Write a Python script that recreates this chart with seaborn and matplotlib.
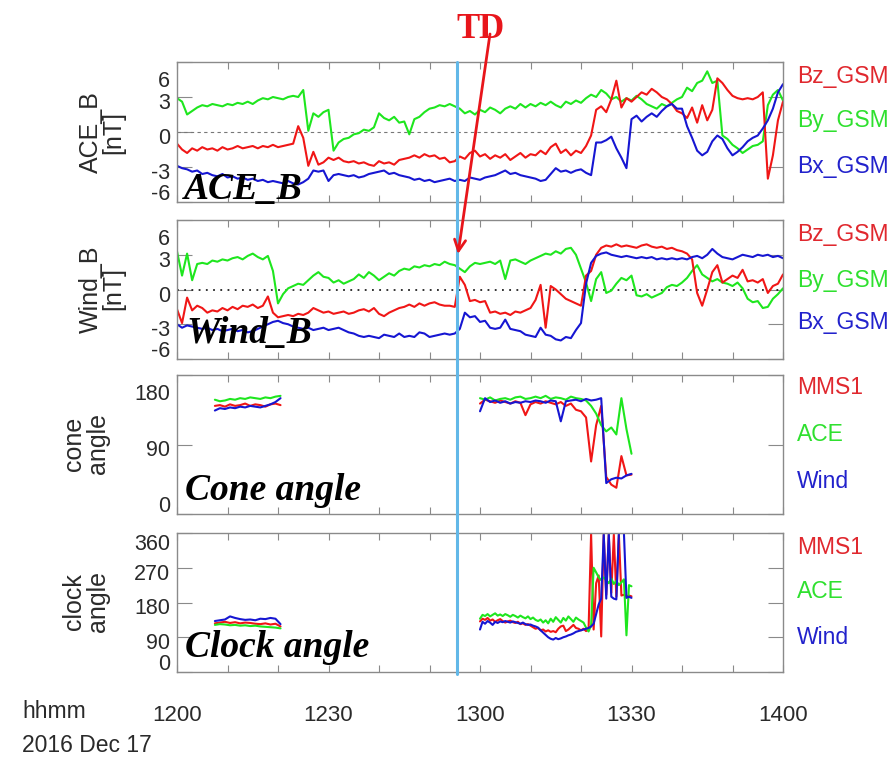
import numpy as np
import pandas as pd
import matplotlib
matplotlib.use("Agg")
import matplotlib.pyplot as plt
import matplotlib.transforms as mtransforms
from matplotlib.lines import Line2D
from matplotlib.patches import FancyArrowPatch
import seaborn as sns

sns.set_theme(style="white")
plt.rcParams["font.family"] = ["Liberation Sans", "DejaVu Sans"]

# ---------------------------------------------------------------------------
# Data: minutes after 12:00 UT, 2016 Dec 17
# ---------------------------------------------------------------------------
t_b = np.arange(0, 121)

ace_by = [2.9, 2.6, 1.5, 1.8, 2.1, 2.3, 2.2, 2.4, 2.3, 2.2,
          2.4, 2.3, 2.5, 2.4, 2.6, 2.4, 2.7, 2.9, 2.8, 3.0,
          2.9, 2.8, 3.0, 3.1, 3.0, 3.6, 0.1, 1.6, 1.3, 1.7,
          1.9, -1.6, -0.9, -0.6, -0.5, -0.2, -0.1, 0.2, 0.1, 0.4,
          1.6, 1.2, 1.0, 1.3, 0.8, 0.9, -0.2, 1.1, 1.3, 1.7,
          2.0, 2.1, 2.3, 2.2, 2.4, 2.2, 2.0, 1.6, 1.8, 1.5,
          1.9, 1.7, 2.1, 1.9, 1.6, 2.0, 2.2, 2.0, 2.4, 2.1,
          2.4, 2.2, 2.5, 2.3, 2.6, 2.3, 2.1, 2.6, 2.4, 2.7,
          2.5, 2.9, 3.2, 3.0, 3.6, 3.3, 2.8, 3.0, 2.6, 2.9,
          2.7, 3.1, 2.8, 2.4, 2.2, 2.0, 2.4, 2.2, 2.5, 2.8,
          3.0, 3.8, 3.5, 4.2, 4.4, 5.2, 4.2, 4.4, -0.3, -0.6,
          -1.1, -1.4, -1.8, -1.5, -1.2, -1.1, -0.8, 2.3, 3.2, 3.6,
          2.7]
ace_bz = [-1.0, -1.5, -1.8, -1.4, -1.6, -1.3, -1.5, -1.4, -1.6, -1.3,
          -1.5, -1.4, -1.2, -1.4, -1.3, -1.2, -1.4, -1.2, -1.3, -1.1,
          -1.3, -1.2, -1.1, -1.0, 0.5, -0.5, -2.9, -1.7, -2.8, -2.6,
          -2.2, -2.4, -2.2, -2.5, -2.6, -2.5, -2.7, -2.6, -2.8, -2.9,
          -2.5, -2.7, -2.6, -2.8, -2.4, -2.3, -2.2, -2.0, -2.2, -1.9,
          -2.1, -2.0, -2.3, -2.2, -2.6, -2.5, -2.1, -2.3, -1.8, -1.6,
          -2.1, -1.9, -2.3, -2.0, -2.2, -1.9, -2.4, -2.1, -1.8, -2.2,
          -1.9, -2.0, -1.6, -1.9, -1.3, -1.0, -1.8, -1.5, -2.0, -1.6,
          -1.8, -1.2, -0.3, 1.9, 2.2, 1.7, 2.8, 4.4, 2.1, 2.9,
          2.6, 3.0, 3.4, 3.2, 3.7, 3.4, 3.0, 2.8, 2.4, 1.8,
          1.6, 1.2, 2.1, 0.8, 2.3, 1.0, 1.9, 4.6, 4.2, 3.6,
          3.1, 2.9, 2.8, 2.9, 2.8, 3.0, 3.4, -4.0, -2.0, 1.0,
          2.6]
ace_bx = [-2.9, -3.1, -3.2, -3.4, -3.3, -3.6, -3.5, -3.7, -3.8, -3.6,
          -3.9, -3.8, -4.0, -3.9, -4.1, -4.0, -4.2, -4.1, -4.3, -4.2,
          -4.3, -4.4, -4.2, -4.4, -4.5, -4.3, -4.0, -3.3, -3.4, -3.3,
          -4.2, -3.7, -3.6, -3.7, -3.8, -3.7, -3.9, -3.8, -3.6, -3.5,
          -3.4, -3.3, -3.6, -3.5, -3.7, -3.8, -3.9, -4.1, -4.0, -4.2,
          -4.1, -4.3, -4.2, -4.1, -4.0, -4.2, -4.1, -4.2, -3.9, -4.0,
          -4.1, -3.9, -3.8, -3.7, -3.5, -3.3, -3.6, -3.5, -3.7, -3.8,
          -3.9, -4.0, -4.2, -4.1, -3.6, -3.1, -3.4, -3.3, -3.5, -3.3,
          -3.2, -3.5, -3.7, -0.9, -0.9, -0.7, -0.4, -1.4, -2.2, -3.1,
          1.1, 1.4, 0.9, 1.3, 1.6, 1.3, 1.8, 2.2, 2.4, 2.0,
          2.0, 0.5, -0.5, -1.6, -2.0, -1.7, -0.8, -0.3, -0.6, -1.4,
          -2.0, -1.7, -1.3, -0.8, -0.5, -0.3, 0.3, 1.0, 2.0, 3.4,
          4.1]

wind_by = [3.3, 1.2, 3.1, 0.8, 2.2, 2.3, 2.2, 2.5, 2.4, 2.6,
           2.5, 2.7, 2.8, 2.6, 2.9, 3.1, 2.8, 2.6, 2.9, 1.6,
           -1.2, -0.4, 0.1, 0.3, 0.5, 0.4, 0.8, 1.2, 1.5, 1.1,
           1.0, 0.6, 0.8, 0.5, 0.7, 0.9, 1.3, 1.0, 1.5, 1.2,
           0.8, 1.1, 1.4, 1.2, 1.6, 1.8, 1.7, 2.0, 1.9, 2.1,
           2.0, 2.2, 2.1, 2.4, 2.2, 2.1, 1.8, 1.5, 2.0, 2.3,
           2.2, 2.3, 2.4, 2.2, 2.5, 0.9, 2.5, 2.6, 2.4, 2.2,
           2.5, 2.7, 2.9, 3.1, 3.0, 3.3, 3.1, 3.5, 3.6, 3.0,
           1.8, 0.6, -1.0, 0.9, 1.5, -0.3, -0.1, 0.5, 1.0, 0.8,
           1.2, -0.5, -0.6, -0.4, -0.7, -0.5, -0.3, 0.2, 0.4, 0.3,
           0.6, 1.0, 1.6, 2.1, 1.3, 1.0, 0.7, 0.9, 0.6, 0.5,
           0.3, 0.6, 0.1, -0.8, -1.1, -1.0, -1.6, -1.5, -0.8, -0.4,
           0.1]
wind_bz = [-1.7, -2.9, -0.7, -1.8, -1.4, -1.6, -2.0, -1.8, -1.9, -1.6,
           -1.8, -1.5, -1.7, -1.4, -1.5, -1.3, -1.6, -1.4, -0.6, -2.0,
           -2.4, -2.3, -2.2, -2.3, -2.1, -2.2, -2.0, -1.6, -1.8, -2.0,
           -1.9, -2.1, -2.0, -1.9, -2.1, -2.0, -1.8, -1.7, -1.9, -1.6,
           -2.1, -2.3, -2.0, -1.8, -1.6, -1.5, -1.3, -1.5, -1.2, -1.4,
           -1.2, -1.1, -1.3, -1.4, -1.4, -1.5, 1.1, 0.4, -1.0, -0.9,
           -1.1, -1.0, -2.0, -1.9, -2.1, -2.0, -2.2, -1.9, -2.0, -1.8,
           -1.6, -0.9, 0.4, -3.3, 0.3, 0.0, -0.4, -0.8, -1.0, -1.2,
           -1.4, 1.2, 1.6, 3.0, 3.6, 3.8, 3.7, 3.9, 3.7, 3.8,
           3.7, 3.6, 3.8, 3.9, 3.7, 3.6, 3.7, 3.5, 3.6, 3.4,
           3.3, 3.1, 2.6, -0.3, -1.4, 0.0, 1.5, 2.1, 0.6, 0.9,
           1.2, 1.0, 1.7, 0.7, 0.8, 0.6, 0.9, -0.3, 0.3, 0.5,
           1.3]
wind_bx = [-3.0, -3.3, -3.1, -3.2, -3.3, -3.4, -3.3, -3.5, -3.4, -3.6,
           -3.5, -3.4, -3.6, -3.5, -3.7, -3.6, -3.4, -3.2, -3.0, -2.8,
           -2.7, -2.9, -3.0, -3.2, -3.3, -3.4, -3.3, -3.5, -3.4, -3.3,
           -3.5, -3.4, -3.3, -3.5, -3.7, -3.8, -4.0, -4.1, -4.0, -4.1,
           -4.2, -3.9, -4.0, -4.1, -3.8, -4.1, -4.0, -4.1, -3.7, -3.8,
           -4.1, -4.0, -3.9, -3.8, -3.9, -3.8, -3.4, -2.0, -2.4, -2.3,
           -2.8, -2.7, -3.3, -3.4, -3.3, -2.6, -3.4, -3.5, -3.6, -3.9,
           -4.0, -4.1, -3.3, -3.9, -4.0, -4.3, -4.4, -4.1, -4.2, -3.5,
           -2.9, 0.5, 2.3, 2.9, 3.1, 3.2, 3.0, 2.9, 2.8, 2.9,
           2.8, 2.7, 2.8, 2.7, 2.8, 2.6, 2.7, 2.6, 2.7, 2.6,
           2.7, 2.6, 2.8, 2.9, 2.7, 3.0, 3.5, 3.1, 2.8, 2.7,
           2.6, 2.8, 3.0, 2.9, 2.8, 3.0, 2.9, 3.0, 2.8, 2.9,
           2.7]

# cone / clock angles: two intervals with data
t_a1 = np.arange(7.5, 21.0, 1.0)
t_cone2 = np.arange(60, 91)
t_clock2 = np.arange(60, 90.5, 0.5)

cone_mms_1 = [140, 141, 139, 142, 140, 141, 143, 140, 142, 141, 139, 142, 143, 141]
cone_ace_1 = [148, 146, 147, 149, 148, 150, 149, 151, 150, 149, 151, 150, 152, 153]
cone_wind_1 = [134, 137, 136, 138, 137, 139, 138, 140, 139, 138, 140, 142, 145, 150]

cone_mms_2 = [143, 148, 146, 144, 147, 145, 143, 146, 144, 128, 142, 145, 143, 146, 144, 142,
              145, 140, 143, 135, 133, 125, 68, 115, 140, 48, 38, 34, 75, 50, 51]
cone_ace_2 = [150, 148, 151, 147, 149, 150, 148, 151, 152, 149, 150, 152, 150, 153, 149, 151,
              150, 148, 152, 150, 149, 147, 140, 130, 115, 107, 112, 103, 150, 110, 78]
cone_wind_2 = [133, 150, 145, 147, 144, 146, 143, 145, 144, 146, 145, 147, 146, 144, 147, 146,
               120, 146, 147, 148, 146, 149, 147, 148, 150, 40, 45, 47, 46, 50, 52]

clock_mms_1 = [126, 128, 130, 127, 129, 126, 128, 127, 125, 124, 126, 123, 125, 118]
clock_ace_1 = [122, 124, 123, 121, 122, 120, 121, 119, 120, 118, 117, 116, 115, 113]
clock_wind_1 = [132, 134, 136, 144, 140, 137, 135, 136, 134, 138, 137, 140, 138, 124]

clock_mms_2 = [131, 138, 135, 140, 133, 136, 130, 134, 137, 132, 128, 131, 133, 129, 127, 130,
               124, 126, 122, 124, 120, 116, 112, 114, 108, 110, 105, 108, 104, 106, 103, 112,
               118, 120, 106, 110, 116, 122, 114, 112, 108, 112, 106, 110, 358, 110, 230, 250,
               92, 356, 200, 356, 205, 356, 195, 356, 198, 200, 196, 198, 196]
clock_ace_2 = [138, 148, 145, 150, 144, 148, 152, 146, 149, 145, 150, 147, 143, 148, 145, 141,
               146, 142, 139, 144, 137, 141, 135, 132, 136, 128, 134, 126, 138, 130, 142, 135,
               128, 140, 133, 144, 137, 130, 141, 136, 132, 128, 115, 105, 120, 270, 258, 245,
               238, 245, 238, 230, 242, 228, 236, 225, 232, 240, 95, 225, 222]
clock_wind_2 = [110, 130, 125, 132, 128, 122, 130, 127, 131, 129, 132, 130, 128, 131, 129, 127,
                125, 128, 124, 122, 123, 120, 118, 115, 108, 102, 96, 90, 86, 84, 88, 85,
                87, 90, 92, 95, 97, 100, 104, 106, 108, 110, 112, 114, 118, 125, 150, 175,
                190, 356, 190, 358, 195, 190, 188, 360, 360, 360, 192, 195, 192]

td_minute = 55.4

RED, GREEN, BLUE = "#f01616", "#1ee61e", "#1616d2"
LRED, LGREEN, LBLUE = "#e0282e", "#2fe02f", "#2222cc"

# ---------------------------------------------------------------------------
W, H = 889, 764
fig = plt.figure(figsize=(W / 100, H / 100), dpi=100)


def box(top, bottom):
    return [177 / W, 1 - bottom / H, 606 / W, (bottom - top) / H]


ax1 = fig.add_axes(box(62, 202))
ax2 = fig.add_axes(box(220, 359))
ax3 = fig.add_axes(box(375, 514))
ax4 = fig.add_axes(box(533, 672))


def draw(ax, t, y, color):
    sns.lineplot(x=np.asarray(t, dtype=float), y=np.asarray(y, dtype=float), ax=ax,
                 color=color, lw=1.5, estimator=None, sort=False, legend=False)


for ax, (by, bz, bx) in zip([ax1, ax2], [(ace_by, ace_bz, ace_bx), (wind_by, wind_bz, wind_bx)]):
    draw(ax, t_b, by, GREEN)
    draw(ax, t_b, bz, RED)
    draw(ax, t_b, bx, BLUE)

for t, m, a, w in [(t_a1, cone_mms_1, cone_ace_1, cone_wind_1),
                   (t_cone2, cone_mms_2, cone_ace_2, cone_wind_2)]:
    draw(ax3, t, m, RED)
    draw(ax3, t, a, GREEN)
    draw(ax3, t, w, BLUE)

for t, m, a, w in [(t_a1, clock_mms_1, clock_ace_1, clock_wind_1),
                   (t_clock2, clock_mms_2, clock_ace_2, clock_wind_2)]:
    draw(ax4, t, m, RED)
    draw(ax4, t, a, GREEN)
    draw(ax4, t, w, BLUE)

ax1.axhline(0, color="#777777", lw=0.8, ls=(0, (3, 3)), zorder=1)
ax2.axhline(0, color="#222222", lw=1.3, ls=(0, (1, 3)), zorder=1)

# (axis, limits, ticks, downward offset of top label in px)
yspecs = [(ax1, (-6, 6), [-6, -3, 0, 3, 6], 9),
          (ax2, (-6, 6), [-6, -3, 0, 3, 6], 9),
          (ax3, (0, 180), [0, 90, 180], 9),
          (ax4, (0, 360), [0, 90, 180, 270, 360], 1)]


def shift(label, dy_px):
    label.set_transform(label.get_transform() + mtransforms.ScaledTranslation(
        0, dy_px / 100, fig.dpi_scale_trans))


for ax, lim, ticks, top_shift in yspecs:
    ax.set_xlim(0, 120)
    ax.set_ylim(*lim)
    ax.set_xlabel("")
    ax.set_ylabel("")
    ax.set_yticks(ticks, [str(v) for v in ticks])
    ax.set_xticks([0, 30, 60, 90, 120])
    ax.set_xticks(np.arange(0, 121, 10), minor=True)
    for s in ax.spines.values():
        s.set_color("#8a8a8a")
        s.set_linewidth(1.0)
        s.set_visible(True)
    ax.tick_params(axis="y", which="major", direction="in", length=11, width=0.8,
                   color="#8a8a8a", left=True, right=True, labelsize=15.5,
                   labelcolor="#2a2a2a", pad=5)
    ax.tick_params(axis="x", which="both", direction="in", length=5, width=0.8,
                   color="#8a8a8a", top=True, bottom=True, labelbottom=False)
    labels = ax.get_yticklabels()
    labels[0].set_va("baseline")
    shift(labels[0], 2)
    for lbl in labels[1:-1]:
        shift(lbl, -4)
    labels[-1].set_va("top")
    shift(labels[-1], -top_shift)
    ax.set_facecolor("white")

ax4.set_xticks([0, 30, 60, 90, 120], ["1200", "1230", "1300", "1330", "1400"])
ax4.tick_params(axis="x", which="major", labelbottom=True, labelsize=16,
                labelcolor="#2a2a2a", pad=24)

# panel captions
serif = dict(fontfamily="Liberation Serif", fontweight="bold", fontstyle="italic",
             fontsize=27, color="black", va="baseline", zorder=6)
ax1.text(0.012, 0.02, "ACE_B", transform=ax1.transAxes, **serif)
ax2.text(0.016, 0.115, "Wind_B", transform=ax2.transAxes, **serif)
ax3.text(0.013, 0.10, "Cone angle", transform=ax3.transAxes, **serif)
ax4.text(0.013, 0.108, "Clock angle", transform=ax4.transAxes, **serif)

# y labels
for ytxt, yc in [("ACE_B\n[nT]", 132), ("Wind_B\n[nT]", 289),
                 ("cone\nangle", 444), ("clock\nangle", 602)]:
    fig.text(102 / W if "nT" in ytxt else 86 / W, 1 - yc / H, ytxt, rotation=90,
             ha="center", va="center", multialignment="center",
             fontsize=18, color="#2a2a2a", linespacing=0.95)

# right-hand series labels
for names, ys in [(["Bz_GSM", "By_GSM", "Bx_GSM"], [77, 120, 167]),
                  (["Bz_GSM", "By_GSM", "Bx_GSM"], [235, 280, 323]),
                  (["MMS1", "ACE", "Wind"], [388, 435, 482]),
                  (["MMS1", "ACE", "Wind"], [547, 592, 637])]:
    for name, y, c in zip(names, ys, [LRED, LGREEN, LBLUE]):
        fig.text(797 / W, 1 - y / H, name, color=c, fontsize=16.5, ha="left", va="center")

fig.text(22 / W, 1 - 712 / H, "hhmm", fontsize=16.5, color="#2a2a2a", ha="left", va="center")
fig.text(22 / W, 1 - 745 / H, "2016 Dec 17", fontsize=16.5, color="#2a2a2a", ha="left", va="center")

# discontinuity marker spanning all panels
trans = mtransforms.blended_transform_factory(ax1.transData, fig.transFigure)
fig.add_artist(Line2D([td_minute, td_minute], [1 - 62 / H, 1 - 674 / H], transform=trans,
                      color="#62b8e8", lw=2.2, zorder=5))

fig.text(481 / W, 1 - 38 / H, "TD", fontfamily="Liberation Serif", fontweight="bold",
         fontsize=25, color="#e8151b", ha="center", va="baseline")
arrow = FancyArrowPatch((490 / W, 1 - 34 / H), (458 / W, 1 - 254 / H),
                        transform=fig.transFigure, arrowstyle="->", mutation_scale=20,
                        color="#e8151b", lw=2.0, shrinkA=0, shrinkB=0, zorder=10)
fig.add_artist(arrow)

fig.savefig("out.png", dpi=100, facecolor="white")
